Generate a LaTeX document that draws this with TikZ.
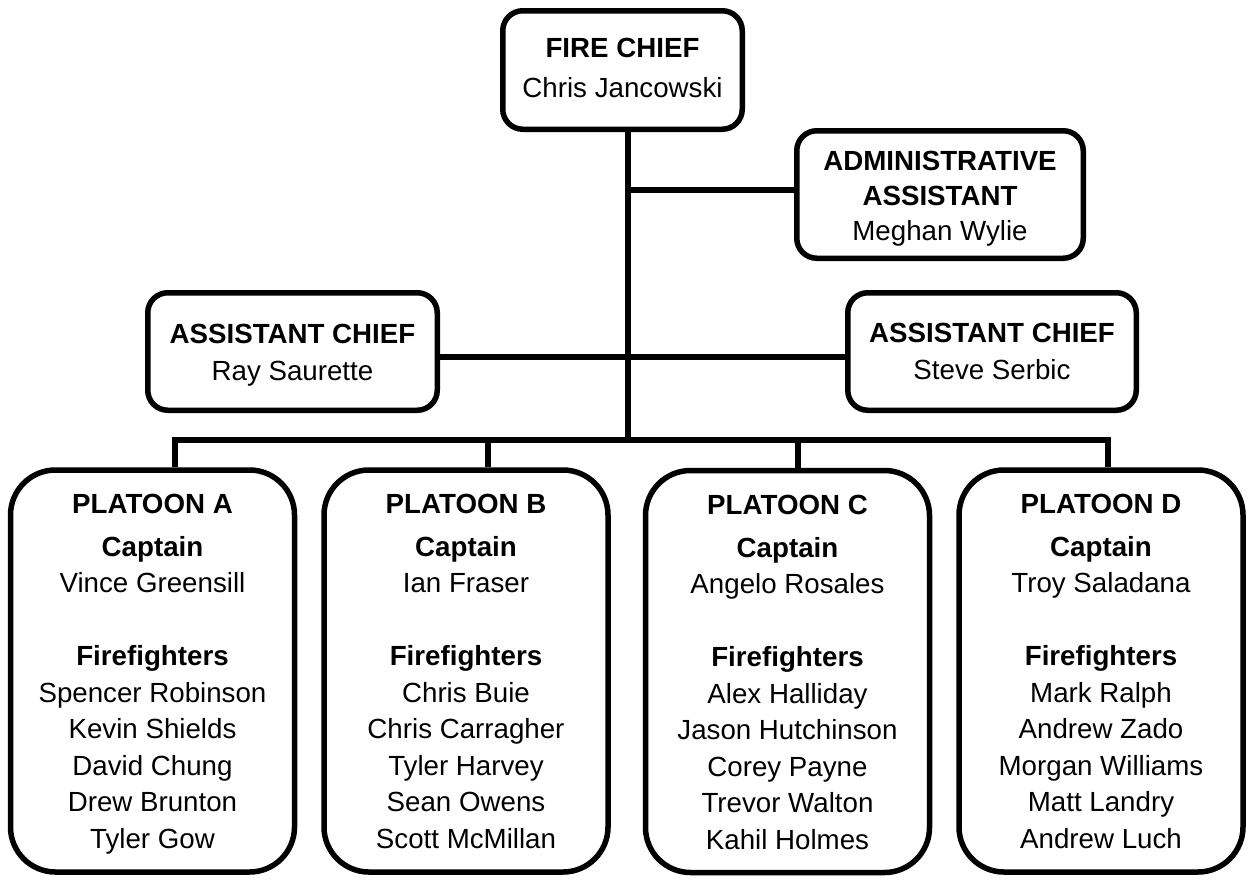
\documentclass[tikz,border=0pt]{standalone}
\usepackage{fontspec}
\setmainfont{Liberation Sans}
\newcommand{\tpx}[1]{\rule{0pt}{#1}}
\newcommand{\bpx}[1]{\rule[-#1]{0pt}{#1}}
\begin{document}
\begin{tikzpicture}[x=1pt,y=-1pt,
  box/.style={draw=black, line width=5.5pt, fill=white, inner sep=0pt, align=center,
    font=\fontsize{27.7}{36.5}\selectfont},
  topbox/.style={box, rounded corners=20pt},
  platbox/.style={box, rounded corners=45pt, minimum width=284pt, minimum height=402pt},
  conn/.style={line width=5.5pt, line join=miter}]
\useasboundingbox (0,0) rectangle (1249,879);
% junction coordinates
\coordinate (j1) at (628,190);
\coordinate (j2) at (628,357);
\coordinate (j3) at (628,440);
\coordinate (bA) at (175,440);
\coordinate (bB) at (488,440);
\coordinate (bC) at (798,440);
\coordinate (bD) at (1108,440);
% nodes
\node[topbox, minimum width=239.5pt, minimum height=118.5pt] (chief) at (622.5,70)
  {\tpx{20pt}\textbf{FIRE CHIEF}\\[3.5pt]Chris Jancowski\bpx{6pt}};
\node[topbox, minimum width=286.5pt, minimum height=127.5pt] (admin) at (940,194.5)
  {\tpx{27pt}\textbf{ADMINISTRATIVE}\\[-1.5pt]\textbf{ASSISTANT}\\[-1.5pt]Meghan Wylie\bpx{6pt}};
\node[topbox, minimum width=289.5pt, minimum height=117.5pt] (asstL) at (292.5,351.5)
  {\tpx{26pt}\textbf{ASSISTANT CHIEF}\\[0.5pt]Ray Saurette\bpx{6pt}};
\node[topbox, minimum width=288.5pt, minimum height=117.5pt] (asstR) at (992,351.5)
  {\tpx{25pt}\textbf{ASSISTANT CHIEF}\\[0pt]Steve Serbic\bpx{6pt}};
\node[platbox] (pA) at (152.5,671)
  {\tpx{25.5pt}\textbf{PLATOON A}\\[6.5pt]\textbf{Captain}\\Vince Greensill\\[36.5pt]\textbf{Firefighters}\\Spencer Robinson\\Kevin Shields\\David Chung\\Drew Brunton\\Tyler Gow\bpx{6.5pt}};
\node[platbox] (pB) at (466,671)
  {\tpx{25.5pt}\textbf{PLATOON B}\\[6.5pt]\textbf{Captain}\\Ian Fraser\\[36.5pt]\textbf{Firefighters}\\Chris Buie\\Chris Carragher\\Tyler Harvey\\Sean Owens\\Scott McMillan\bpx{6.5pt}};
\node[platbox] (pC) at (787.5,671.5)
  {\tpx{27pt}\textbf{PLATOON C}\\[6.5pt]\textbf{Captain}\\Angelo Rosales\\[36.5pt]\textbf{Firefighters}\\Alex Halliday\\Jason Hutchinson\\Corey Payne\\Trevor Walton\\Kahil Holmes\bpx{6.5pt}};
\node[platbox] (pD) at (1101,671)
  {\tpx{25.5pt}\textbf{PLATOON D}\\[6.5pt]\textbf{Captain}\\Troy Saladana\\[36.5pt]\textbf{Firefighters}\\Mark Ralph\\Andrew Zado\\Morgan Williams\\Matt Landry\\Andrew Luch\bpx{6.5pt}};
% connectors
\draw[conn] (chief.south -| j1) -- (j3);
\draw[conn] (j1) -- (admin.west |- j1);
\draw[conn] (asstL.east |- j2) -- (asstR.west |- j2);
\draw[conn] (pA.north -| bA) -- (bA) -- (bD) -- (pD.north -| bD);
\draw[conn] (bB) -- (pB.north -| bB);
\draw[conn] (bC) -- (pC.north -| bC);
\end{tikzpicture}
\end{document}
